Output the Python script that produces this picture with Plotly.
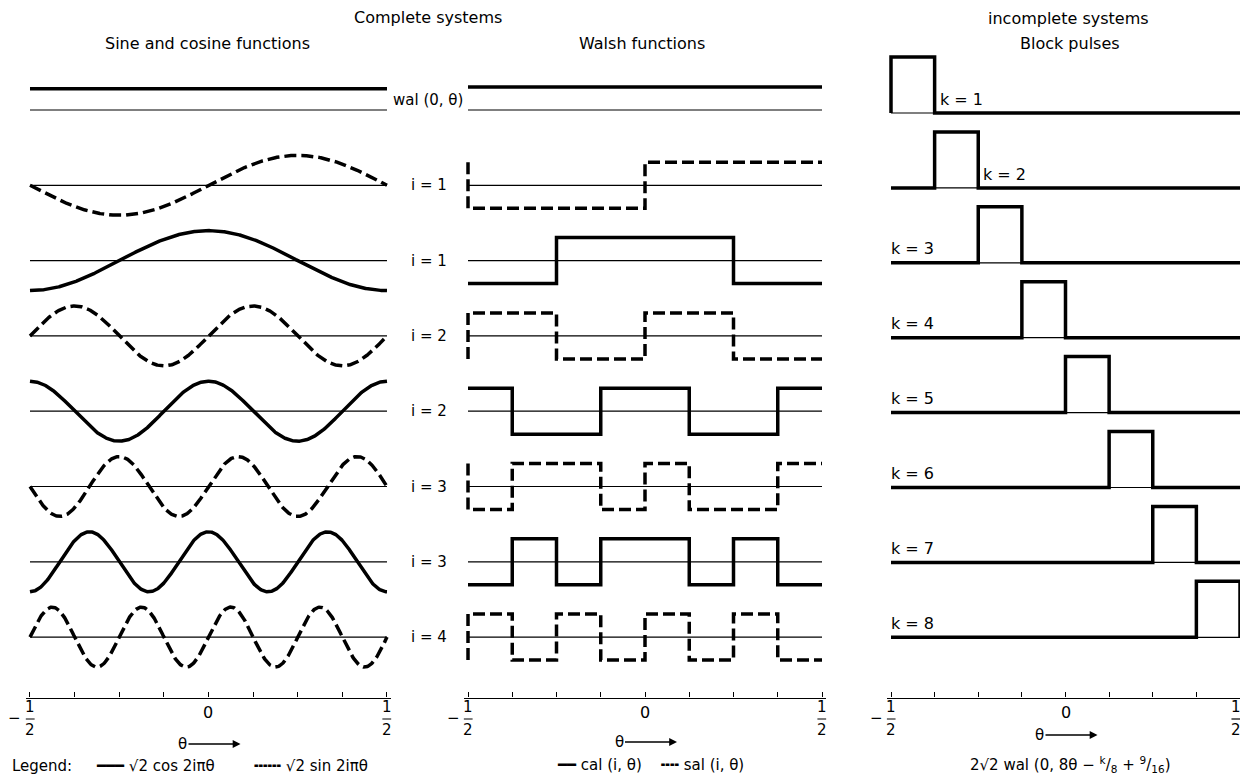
import numpy as np
import plotly.graph_objects as go

# ---------------- data ----------------
theta_edges = [-0.5, -0.375, -0.25, -0.125, 0.0, 0.125, 0.25, 0.375, 0.5]
tick_vals = [-0.5, 0.0, 0.5]
tick_num = ["1", "0", "1"]
tick_den = ["2", "", "2"]
tick_sign = ["−", "", ""]

# sine / cosine panel (row order, top to bottom)
trig_kind = ["const", "sin", "cos", "sin", "cos", "sin", "cos", "sin"]
trig_freq = [0, 1, 1, 2, 2, 3, 3, 4]
trig_amp = 2 ** 0.5

# Walsh panel: values on the eight 1/8-intervals of theta
walsh_kind = ["wal", "sal", "cal", "sal", "cal", "sal", "cal", "sal"]
walsh_i = [0, 1, 1, 2, 2, 3, 3, 4]
wal0 = [1, 1, 1, 1, 1, 1, 1, 1]
sal1 = [-1, -1, -1, -1, 1, 1, 1, 1]
cal1 = [-1, -1, 1, 1, 1, 1, -1, -1]
sal2 = [1, 1, -1, -1, 1, 1, -1, -1]
cal2 = [1, -1, -1, 1, 1, -1, -1, 1]
sal3 = [-1, 1, 1, -1, 1, -1, -1, 1]
cal3 = [-1, 1, -1, 1, 1, -1, 1, -1]
sal4 = [1, -1, 1, -1, 1, -1, 1, -1]
walsh_values = [wal0, sal1, cal1, sal2, cal2, sal3, cal3, sal4]

# block pulses
block_k = [1, 2, 3, 4, 5, 6, 7, 8]
block_amp = 2 * 2 ** 0.5

# ---------------- layout constants ----------------
OFF = 8                     # page body margin of the browser
W, H = 1248 - OFF, 780 - OFF
FONT = "DejaVu Sans"
BOT_PX = 697.5
PAD = 0.012
panels = [
    dict(x0=30, x1=387, u=21.2, row0=110, row=75.3),   # sine / cosine
    dict(x0=468, x1=822, u=23.0, row0=110, row=75.3),  # Walsh
    dict(x0=891, x1=1240, u=19.8, row0=113, row=74.9), # block pulses
]
THICK = 3.5
THIN = 1.2
DASH = "12px,5px"

fig = go.Figure()


def row_off(p, r):
    return -r * p["row"] / p["u"]


def add_line(n, x, y, width, dash="solid"):
    fig.add_trace(go.Scatter(
        x=x, y=y, mode="lines", xaxis=f"x{n}" if n > 1 else "x",
        yaxis=f"y{n}" if n > 1 else "y",
        line=dict(color="black", width=width, dash=dash),
        hoverinfo="skip", showlegend=False))


# baselines
for n, p in enumerate(panels, start=1):
    for r in range(8):
        o = row_off(p, r)
        add_line(n, [-0.5, 0.5], [o, o], THIN)

# sine / cosine functions
p = panels[0]
th = np.linspace(-0.5, 0.5, 600)
for r, (kind, f) in enumerate(zip(trig_kind, trig_freq)):
    o = row_off(p, r)
    if kind == "const":
        add_line(1, th, np.ones_like(th) + o, THICK)
    elif kind == "sin":
        add_line(1, th, trig_amp * np.sin(2 * np.pi * f * th) + o, THICK, DASH)
    else:
        add_line(1, th, trig_amp * np.cos(2 * np.pi * f * th) + o, THICK)

# Walsh functions
p = panels[1]
for r, (kind, vals) in enumerate(zip(walsh_kind, walsh_values)):
    o = row_off(p, r)
    xs, ys = [], []
    if kind == "sal":
        xs.append(theta_edges[0]); ys.append(-vals[0] + o)
    for j, v in enumerate(vals):
        xs += [theta_edges[j], theta_edges[j + 1]]
        ys += [v + o, v + o]
    add_line(2, xs, ys, THICK, DASH if kind == "sal" else "solid")

# Block pulses
p = panels[2]
for r, k in enumerate(block_k):
    o = row_off(p, r)
    a, b = theta_edges[k - 1], theta_edges[k]
    xs = [-0.5, a, a, b, b, 0.5]
    ys = [o, o, o + block_amp, o + block_amp, o, o]
    add_line(3, xs, ys, THICK)

# ---------------- axes ----------------
lay = dict(width=W, height=H, margin=dict(l=0, r=0, t=0, b=0),
           paper_bgcolor="white", plot_bgcolor="white",
           font=dict(family=FONT, color="black", size=15), showlegend=False)
for n, p in enumerate(panels, start=1):
    span = p["x1"] - p["x0"]
    d0 = (p["x0"] - PAD * span - OFF) / W
    d1 = (p["x1"] + PAD * span - OFF) / W
    ymax = (p["row0"] - OFF) / p["u"]
    ymin = ymax - (BOT_PX - OFF) / p["u"]
    xs = "xaxis" if n == 1 else f"xaxis{n}"
    ysn = "yaxis" if n == 1 else f"yaxis{n}"
    lay[xs] = dict(domain=[d0, d1], range=[-0.5 - PAD, 0.5 + PAD],
                   anchor="y" if n == 1 else f"y{n}",
                   showgrid=False, zeroline=False, showline=True,
                   linecolor="black", linewidth=1.3,
                   ticks="inside", tickvals=theta_edges, ticklen=5,
                   tickwidth=1, tickcolor="black", showticklabels=False,
                   fixedrange=True)
    lay[ysn] = dict(domain=[1 - (BOT_PX - OFF) / H, 1], range=[ymin, ymax],
                    anchor="x" if n == 1 else f"x{n}",
                    visible=False, fixedrange=True)
fig.update_layout(**lay)


# ---------------- text ----------------
def px(x):
    return (x - OFF) / W


def py(y):
    return 1 - (y - OFF) / H


def ann(text, x, y, xref="paper", yref="paper", size=15, xanchor="center",
        yanchor="middle", family=FONT, **kw):
    fig.add_annotation(text=text, x=x, y=y, xref=xref, yref=yref,
                       showarrow=False, xanchor=xanchor, yanchor=yanchor,
                       font=dict(family=family, size=size, color="black"), **kw)


ann("Complete systems", px(428), py(17), size=16)
ann("Sine and cosine functions", px(207), py(43), size=16)
ann("Walsh functions", px(642), py(43), size=16)
ann("incomplete systems", px(1068), py(18), size=16)
ann("Block pulses", px(1070), py(43), size=16)

# row labels between the first two panels
p = panels[1]
ann("wal (0, θ)", px(428), 0.45, yref="y2", size=15)
for r in range(1, 8):
    ann(f"i = {walsh_i[r]}", px(429), row_off(p, r), yref="y2", size=15)

# k labels
p = panels[2]
for r, k in enumerate(block_k):
    o = row_off(p, r)
    if k <= 2:
        x, xshift = theta_edges[k], 3
    else:
        x, xshift = -0.5, -2
    ann(f"k = {k}", x, o + 0.12, xref="x3", yref="y3", size=16,
        xanchor="left", yanchor="bottom", xshift=xshift)

# tick labels (stacked fractions)
for n, p in zip((1, 2, 3), panels):
    xr = "x" if n == 1 else f"x{n}"
    span = p["x1"] - p["x0"]
    edge_shift = -4 if n == 3 else 0
    for v, num, den, sg in zip(tick_vals, tick_num, tick_den, tick_sign):
        sh = edge_shift if v > 0 else 0
        if den:
            ann(num, v, py(718), xref=xr, size=15, yanchor="bottom", xshift=sh)
            ann(den, v, py(719), xref=xr, size=15, yanchor="top", xshift=sh)
            c = v + sh / span
            fig.add_shape(type="line", xref=xr, yref="paper",
                          x0=c - 0.013, x1=c + 0.013, y0=py(719), y1=py(719),
                          line=dict(color="black", width=1.2))
        else:
            ann(num, v, py(712), xref=xr, size=16)
        if sg:
            ann(sg, v, py(718), xref=xr, size=15, xshift=-15)

# theta arrows
arrow_pos = [("x", 0.0, 744), ("x2", 0.0, 742), ("x3", 0.0, 735)]
for xr, xv, yv in arrow_pos:
    fig.add_annotation(text="θ", x=xv, y=py(yv), xref=xr, yref="paper",
                       showarrow=True, axref="pixel", ayref="pixel",
                       ax=-58, ay=0, xshift=32, arrowhead=2, arrowsize=1.2,
                       arrowwidth=1.3, arrowcolor="black", standoff=0,
                       startstandoff=0,
                       font=dict(family=FONT, size=15, color="black"))

# legends
ann("Legend:", px(10), py(766), xanchor="left", size=15)
ann("━━━ √2 cos 2iπθ", px(94), py(766), xanchor="left", size=15)
ann("╍╍╍ √2 sin 2iπθ", px(252), py(766), xanchor="left", size=15)
ann("━━ cal (i, θ)    ╍╍ sal (i, θ)", px(650), py(765), size=15)
ann("2√2 wal (0, 8θ − <sup>k</sup>/<sub>8</sub> + <sup>9</sup>/<sub>16</sub>)",
    px(1070), py(764), size=15)

fig.write_html("out.html")
